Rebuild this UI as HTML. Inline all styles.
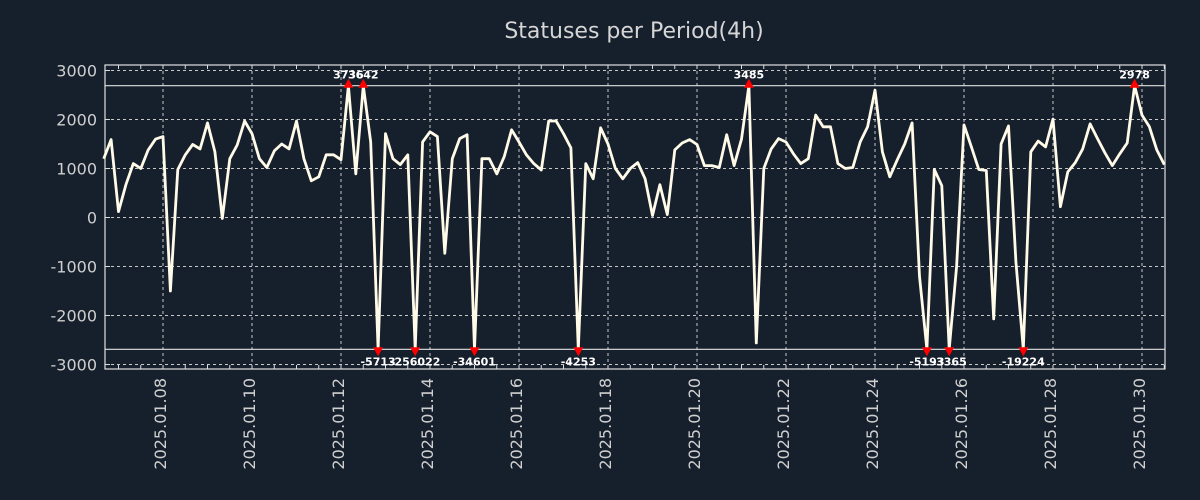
<!DOCTYPE html>
<html><head><meta charset="utf-8"><style>
html,body{margin:0;padding:0;background:#161f2c;}
svg{display:block;font-family:"DejaVu Sans","Liberation Sans",sans-serif;}
</style></head><body>
<svg id="chart" width="1200" height="500" xmlns="http://www.w3.org/2000/svg">
<rect width="1200" height="500" fill="#161f2c"/>
<text x="634" y="38" text-anchor="middle" font-size="22" fill="#d6d6d6">Statuses per Period(4h)</text>
<g id="grid"></g><g id="axes"></g><g id="marks"></g>
</svg>
<script>
const yTicks = [3000,2000,1000,0,-1000,-2000,-3000];
const xTickDays = [8,10,12,14,16,18,20,22,24,26,28,30];
const startDay = 6 + 16/24; // 2025.01.06 16:00
const stepHours = 4;
const values = [1200,1590,120,670,1100,1000,1380,1600,1650,-1500,980,1280,1490,1400,1930,1340,-20,1200,1480,1970,1710,1200,1020,1360,1500,1400,1970,1200,750,830,1280,1280,1180,3736,890,3642,1540,-5713,1710,1200,1080,1280,-256022,1540,1750,1650,-730,1200,1610,1690,-34601,1200,1200,890,
1240,1790,1540,1280,1100,970,1970,1970,1710,1420,-4253,1100,790,1830,1500,1000,790,1000,1120,790,40,670,60,1380,1520,1590,1490,1060,1060,1020,1690,1060,1600,3485,-2560,1000,1400,1610,1540,1300,1100,1200,2090,1850,1850,1100,1000,1020,1540,
1850,2600,1340,830,1180,1500,1930,-1200,-5193,980,650,-3365,-1000,1890,1440,980,960,-2070,1500,1870,-900,-19224,1340,1560,1440,2010,220,930,1120,1400,1910,1610,1320,1060,1300,1520,2978,2090,1850,1380,1080];
const clipHigh = 2690, clipLow = -2690;

const L=105,R=1165,T=65,B=369;
const NS="http://www.w3.org/2000/svg";
const dayPx=44.5, day0X=163; // x of 2025.01.08
function xDay(d){return day0X+(d-8)*dayPx;}
function xIdx(i){return xDay(startDay+i*stepHours/24);}
function yv(v){return 217.5 - v*0.049;}
function mk(tag,attrs,parent){const e=document.createElementNS(NS,tag);for(const k in attrs)e.setAttribute(k,attrs[k]);parent.appendChild(e);return e;}
const grid=document.getElementById('grid'),axes=document.getElementById('axes'),marks=document.getElementById('marks');

yTicks.forEach(t=>{
  const y=yv(t);
  const g=mk('line',{x1:L,x2:R,y1:y,y2:y,stroke:'#c8c8c8','stroke-width':1,'stroke-dasharray':'3,3'},grid);
  
  
  const tk=mk('line',{x1:L,x2:L+5,y1:y,y2:y,stroke:'#ddd'},axes);
  
  
  const tx=mk('text',{x:L-8,y:y+6,'text-anchor':'end','font-size':16,fill:'#cfcfcf'},axes);
  tx.textContent=t;
  
  
});
for(let d=6.5; d<=31; d+=0.5){
  const x=xDay(d); if(x<L||x>R) continue;
  const t=mk('line',{x1:x,x2:x,y1:B,y2:B-4,stroke:'#ddd'},axes);
  
  
  const t2=mk('line',{x1:x,x2:x,y1:T,y2:T+4,stroke:'#ddd'},axes);
  
  
}
xTickDays.forEach(d=>{
  const x=xDay(d);
  const g=mk('line',{x1:x,x2:x,y1:T,y2:B,stroke:'#c8c8c8','stroke-width':1,'stroke-dasharray':'3,3'},grid);
  
  
  const tx=mk('text',{x:0,y:0,'text-anchor':'end','font-size':16,fill:'#cfcfcf',transform:`translate(${x+3},378) rotate(-90)`},axes);
  tx.textContent='2025.01.'+String(d).padStart(2,'0');
  
  
});
const fr=mk('rect',{x:L,y:T,width:R-L,height:B-T,fill:'none',stroke:'#e0e0e0','stroke-width':1.2},axes);


[clipHigh,clipLow].forEach(c=>{
  const l=mk('line',{x1:L,x2:R,y1:yv(c),y2:yv(c),stroke:'#e0e0e0','stroke-width':1.2},axes);
  
  
});

const pts=values.map((v,i)=>[xIdx(i),yv(Math.max(clipLow,Math.min(clipHigh,v)))]);
const line=mk('polyline',{points:pts.map(p=>p[0].toFixed(1)+','+p[1].toFixed(1)).join(' '),fill:'none',stroke:'#fffbe8','stroke-width':2.8,'stroke-linejoin':'round'},marks);



values.forEach((v,i)=>{
  if(v<=clipHigh && v>=clipLow) return;
  const x=xIdx(i), up=v>clipHigh, y=yv(up?clipHigh:clipLow);
  const tri=mk('polygon',{points: up?`${x-5},${y+2} ${x+5},${y+2} ${x},${y-7}`:`${x-5},${y-2} ${x+5},${y-2} ${x},${y+7}`,fill:'#ff0000'},marks);
  
  
  const tx=mk('text',{x:x,y:up?y-7:y+16,'text-anchor':'middle','font-size':11,'font-weight':'bold',fill:'#ffffff'},marks);
  tx.textContent=v;
  
  
});
</script>
</body></html>
